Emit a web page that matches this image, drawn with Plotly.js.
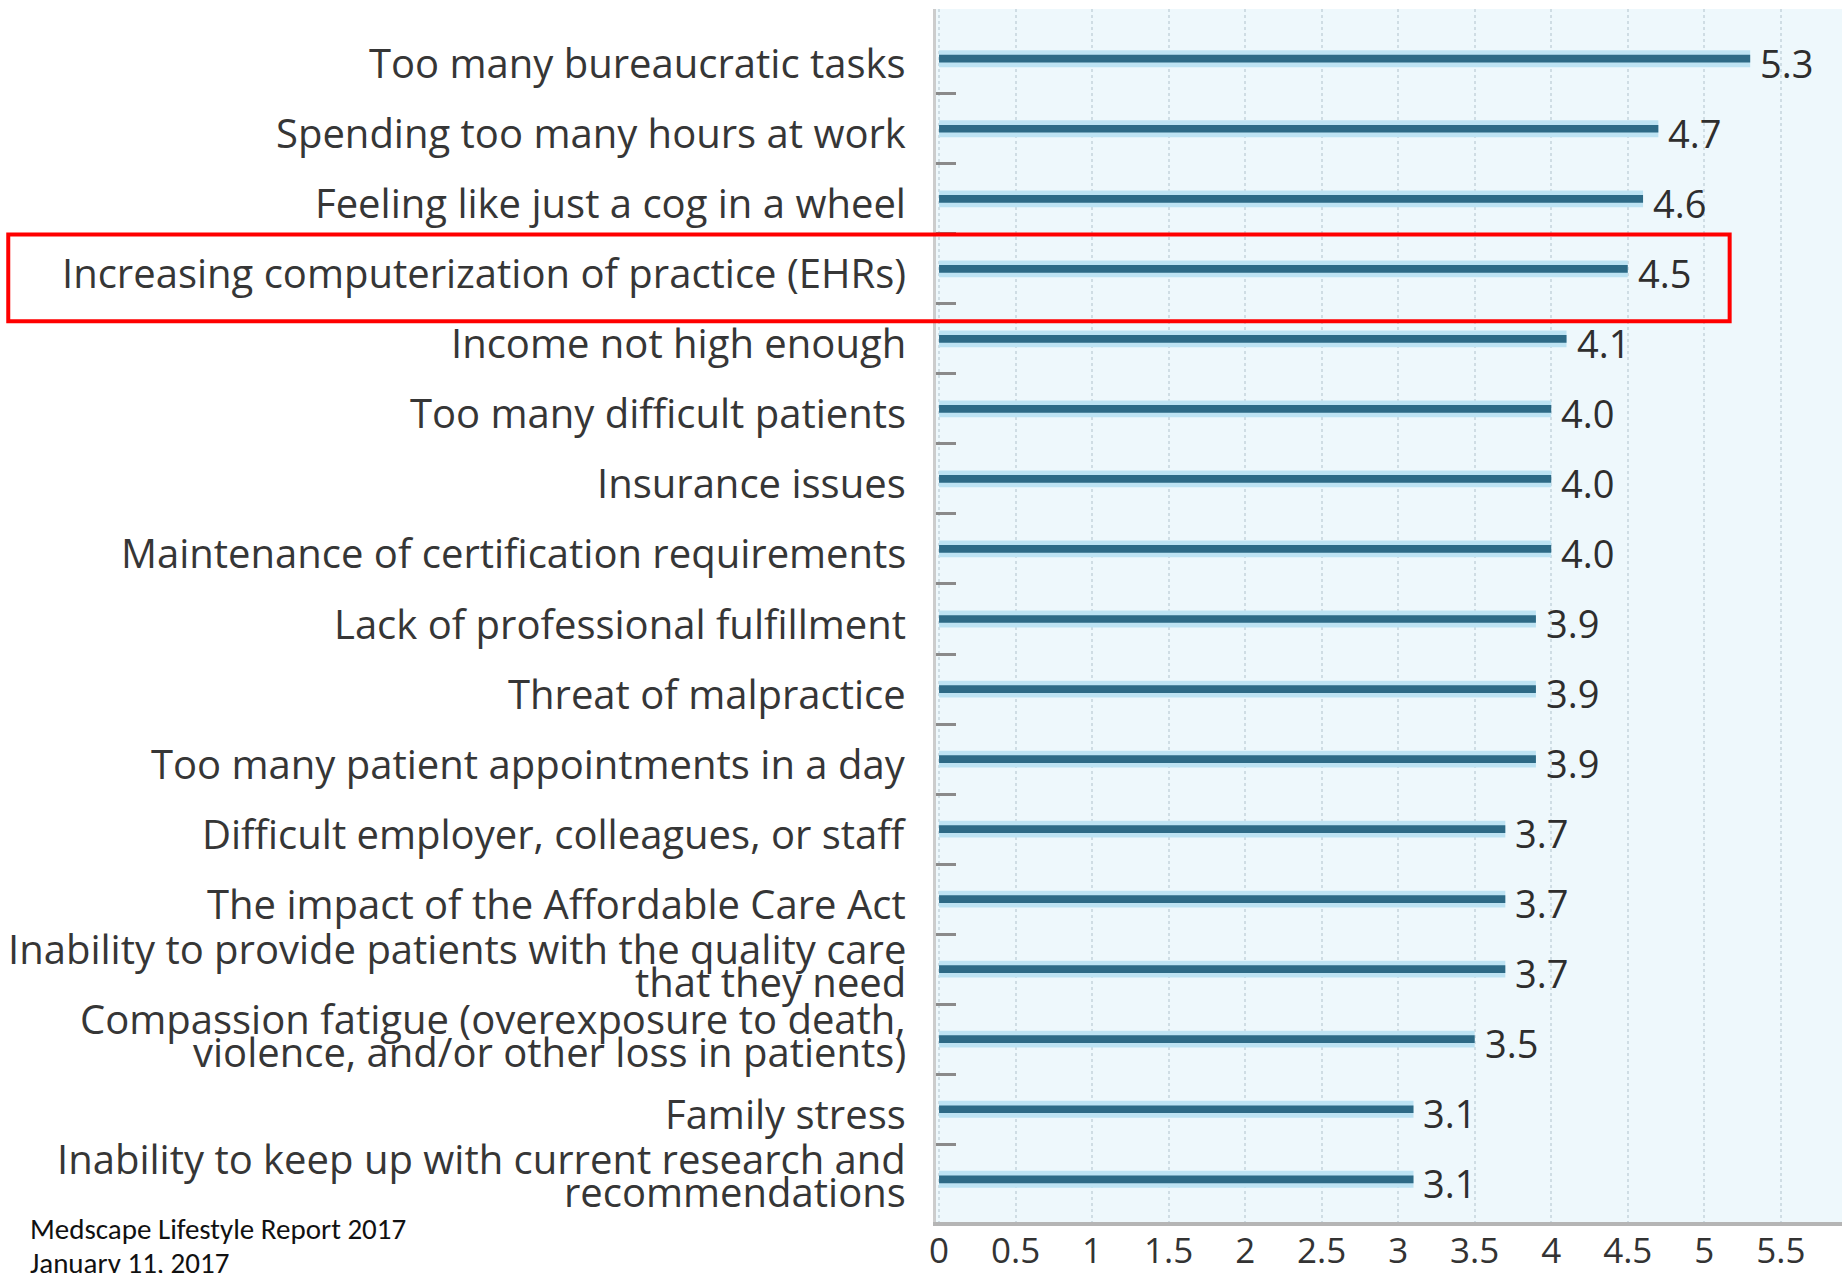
<!DOCTYPE html>
<html>
<head>
<meta charset="utf-8">
<script src="https://cdn.plot.ly/plotly-3.0.1.min.js"></script>
<style>html,body{margin:0;padding:0;background:#fff;}#chart{width:1842px;height:1273px;}</style>
</head>
<body>
<div id="chart"></div>
<script>
// Data
const labelLines = [
  ["Too many bureaucratic tasks"],
  ["Spending too many hours at work"],
  ["Feeling like just a cog in a wheel"],
  ["Increasing computerization of practice (EHRs)"],
  ["Income not high enough"],
  ["Too many difficult patients"],
  ["Insurance issues"],
  ["Maintenance of certification requirements"],
  ["Lack of professional fulfillment"],
  ["Threat of malpractice"],
  ["Too many patient appointments in a day"],
  ["Difficult employer, colleagues, or staff"],
  ["The impact of the Affordable Care Act"],
  ["Inability to provide patients with the quality care", "that they need"],
  ["Compassion fatigue (overexposure to death,", "violence, and/or other loss in patients)"],
  ["Family stress"],
  ["Inability to keep up with current research and", "recommendations"]
];
const values = [5.3, 4.7, 4.6, 4.5, 4.1, 4.0, 4.0, 4.0, 3.9, 3.9, 3.9, 3.7, 3.7, 3.7, 3.5, 3.1, 3.1];
const xTicks = [0, 0.5, 1, 1.5, 2, 2.5, 3, 3.5, 4, 4.5, 5, 5.5];
const xTickText = ["0", "0.5", "1", "1.5", "2", "2.5", "3", "3.5", "4", "4.5", "5", "5.5"];
const highlighted = "Increasing computerization of practice (EHRs)";
const sourceLines = ["Medscape Lifestyle Report 2017", "January 11, 2017"];

const categories = labelLines.map(l => l.join(" "));
const FONT = "'Open Sans', Lato, sans-serif";
const labelFont = {family: FONT, size: 40, color: "#363636"};

const halo = {
  type: "bar", orientation: "h", x: values, y: categories, width: 0.24,
  marker: {color: "#bde3f3", line: {width: 0}}, hoverinfo: "skip", showlegend: false
};
const core = {
  type: "bar", orientation: "h", x: values, y: categories, width: 0.11,
  marker: {color: "#2d6a86", line: {width: 0}}, showlegend: false
};
// boundary ticks between categories on an overlaid numeric axis
const boundaryTicks = categories.slice(1).map((c, i) => i + 0.5);
const tickHolder = {
  type: "scatter", mode: "markers", x: [null], y: [null], yaxis: "y2",
  hoverinfo: "skip", showlegend: false
};

const annotations = [];
labelLines.forEach((lines, i) => {
  const shifts = lines.length === 1 ? [-4] : [21, -12];
  lines.forEach((t, j) => {
    annotations.push({
      xref: "paper", yref: "y", x: 0, y: categories[i], text: t,
      xanchor: "right", yanchor: "middle", xshift: -28, yshift: shifts[j],
      showarrow: false, font: labelFont
    });
  });
});
values.forEach((v, i) => {
  annotations.push({
    xref: "x", yref: "y", x: v, y: categories[i], text: v.toFixed(1),
    xanchor: "left", yanchor: "middle", xshift: 8, yshift: -4,
    showarrow: false, font: {family: FONT, size: 38, color: "#2e2e2e"}
  });
});
sourceLines.forEach((t, j) => {
  annotations.push({
    xref: "paper", yref: "paper", x: -1.002, y: 0, text: t,
    xanchor: "left", yanchor: "middle", yshift: -(7 + 34 * j), showarrow: false,
    font: {family: "Carlito, Calibri, Lato, sans-serif", size: 29, color: "#111"}
  });
});

const hiIdx = categories.indexOf(highlighted);
const yRange = [16.61, -0.71];

const layout = {
  width: 1842, height: 1273,
  margin: {l: 936, r: 0, t: 9, b: 51},
  paper_bgcolor: "#ffffff",
  plot_bgcolor: "#eef8fc",
  barmode: "overlay",
  showlegend: false,
  xaxis: {
    range: [-0.02, 5.9], tickvals: xTicks, ticktext: xTickText,
    showgrid: true, gridcolor: "#cfdde4", griddash: "dot", gridwidth: 2,
    zeroline: false, showline: true, linecolor: "#b5b5b5", linewidth: 4,
    ticks: "", ticklabelstandoff: -5,
    tickfont: {family: FONT, size: 35, color: "#333"},
    fixedrange: true
  },
  yaxis: {
    type: "category", categoryorder: "array", categoryarray: categories,
    range: yRange, showticklabels: false, ticks: "",
    showgrid: false, zeroline: false, showline: true, linecolor: "#cccccc", linewidth: 3,
    fixedrange: true
  },
  yaxis2: {
    overlaying: "y", anchor: "x", side: "left", range: yRange,
    tickmode: "array", tickvals: boundaryTicks, showticklabels: false,
    ticks: "inside", ticklen: 20, tickwidth: 3, tickcolor: "#8a8a8a",
    showgrid: false, zeroline: false, showline: false, fixedrange: true
  },
  annotations: annotations,
  shapes: [{
    type: "rect", xref: "paper", yref: "y",
    x0: -1.024, x1: 0.876, y0: hiIdx - 0.49, y1: hiIdx + 0.75,
    line: {color: "#ff0000", width: 4}, fillcolor: "rgba(0,0,0,0)", layer: "above"
  }]
};

Plotly.newPlot("chart", [halo, core, tickHolder], layout, {displayModeBar: false, staticPlot: true});
</script>
</body>
</html>
